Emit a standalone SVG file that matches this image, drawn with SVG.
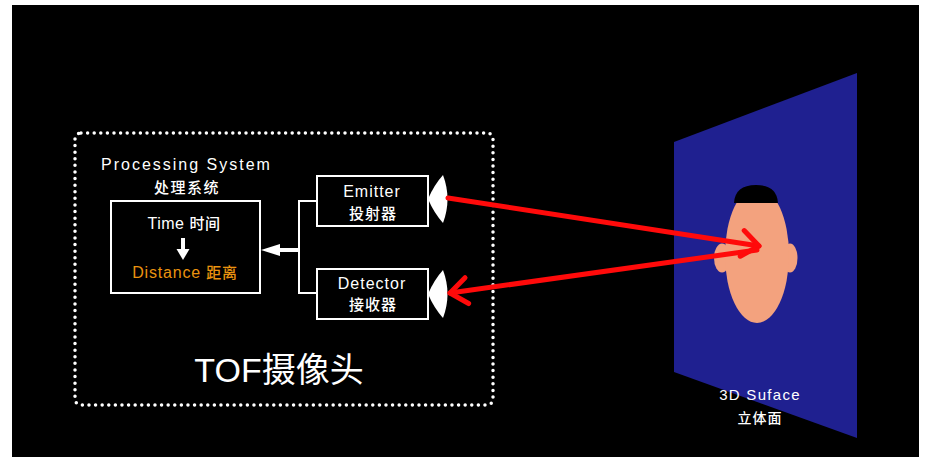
<svg xmlns="http://www.w3.org/2000/svg" width="927" height="457" viewBox="0 0 927 457">
  <style>
    .lat { font-family: "Liberation Sans", "Noto Sans CJK SC", sans-serif; fill: #ffffff; }
    .cjk { font-family: "Noto Sans CJK SC", "Liberation Sans", sans-serif; fill: #ffffff; font-weight: 500; }
    .box { fill: none; stroke: #ffffff; stroke-width: 2; }
    .wire { fill: none; stroke: #ffffff; stroke-width: 2; }
    .ray { fill: none; stroke: #ff0a0a; stroke-width: 5; stroke-linecap: round; }
    .lens { fill: #ffffff; }
  </style>
  <defs>
    <marker id="openHead" markerUnits="userSpaceOnUse" markerWidth="40" markerHeight="40" refX="0" refY="0" orient="auto" overflow="visible">
      <path d="M-17,-13 L0,0 L-17,13" fill="none" stroke="#ff0a0a" stroke-width="5" stroke-linecap="round" stroke-linejoin="round"/>
    </marker>
  </defs>

  <!-- page backdrop -->
  <rect x="0" y="0" width="927" height="457" fill="#ffffff"/>
  <rect x="12" y="5" width="907" height="452" fill="#000000"/>

  <!-- target surface with a face -->
  <g id="surface">
    <polygon points="674,142 857,73 857,438 674,372" fill="#1f2090"/>
    <ellipse cx="722" cy="258" rx="8" ry="14.5" fill="#f3a27e"/>
    <ellipse cx="790" cy="258" rx="7.5" ry="14.5" fill="#f3a27e"/>
    <ellipse cx="757" cy="255" rx="32" ry="68" fill="#f3a27e"/>
    <path d="M734,203 Q735,185 756,185 Q777,185 778,203 Z" fill="#000000"/>
    <text class="lat" x="760" y="400" font-size="15" letter-spacing="1.3" text-anchor="middle">3D Suface</text>
    <text class="cjk" x="760" y="423" font-size="14" letter-spacing="1" text-anchor="middle">立体面</text>
  </g>

  <!-- camera enclosure -->
  <g id="tof-camera">
    <rect x="75" y="133" width="418" height="272" rx="6" fill="none" stroke="#ffffff" stroke-width="3.5" stroke-dasharray="0 6.6" stroke-linecap="round"/>
    <text class="lat" x="279" y="382" font-size="34" text-anchor="middle">TOF<tspan class="cjk" style="font-weight:normal">摄像头</tspan></text>
  </g>

  <g id="processing-system">
    <text class="lat" x="101" y="170" font-size="16" letter-spacing="2">Processing System</text>
    <text class="cjk" x="187" y="193" font-size="15" letter-spacing="1.5" text-anchor="middle">处理系统</text>
  </g>

  <g id="time-distance">
    <rect class="box" x="111" y="201" width="149" height="92"/>
    <text class="lat" x="184" y="229" font-size="16" letter-spacing="0.5" text-anchor="middle">Time <tspan class="cjk" font-size="15">时间</tspan></text>
    <line x1="183" y1="238" x2="183" y2="251" stroke="#ffffff" stroke-width="4"/>
    <polygon points="176.5,249 189.5,249 183,260" fill="#ffffff"/>
    <text class="lat" x="185" y="278" font-size="16" letter-spacing="0.8" text-anchor="middle" style="fill:#eb930f">Distance <tspan class="cjk" font-size="15" style="fill:#eb930f">距离</tspan></text>
  </g>

  <g id="emitter">
    <rect class="box" x="317" y="176" width="111" height="50"/>
    <text class="lat" x="372" y="197" font-size="16" letter-spacing="1" text-anchor="middle">Emitter</text>
    <text class="cjk" x="373" y="219" font-size="15" letter-spacing="1" text-anchor="middle">投射器</text>
    <path class="lens" d="M428,199 Q434,185 443,175 Q452,199 443,223 Q434,213 428,199 Z"/>
  </g>

  <g id="detector">
    <rect class="box" x="317" y="269" width="111" height="50"/>
    <text class="lat" x="372" y="289" font-size="16" letter-spacing="1" text-anchor="middle">Detector</text>
    <text class="cjk" x="373" y="310" font-size="15" letter-spacing="1" text-anchor="middle">接收器</text>
    <path class="lens" d="M428,294 Q434,280 443,270 Q452,294 443,318 Q434,308 428,294 Z"/>
  </g>

  <g id="connectors">
    <polyline class="wire" points="317,201 299,201 299,293 317,293"/>
    <line x1="299" y1="250" x2="272" y2="250" stroke="#ffffff" stroke-width="4"/>
    <polygon points="261,250 280,244 280,256" fill="#ffffff"/>
    <line class="ray" x1="448" y1="198" x2="759" y2="246" marker-end="url(#openHead)"/>
    <line class="ray" x1="757" y1="250" x2="450" y2="293" marker-end="url(#openHead)"/>
  </g>
</svg>
